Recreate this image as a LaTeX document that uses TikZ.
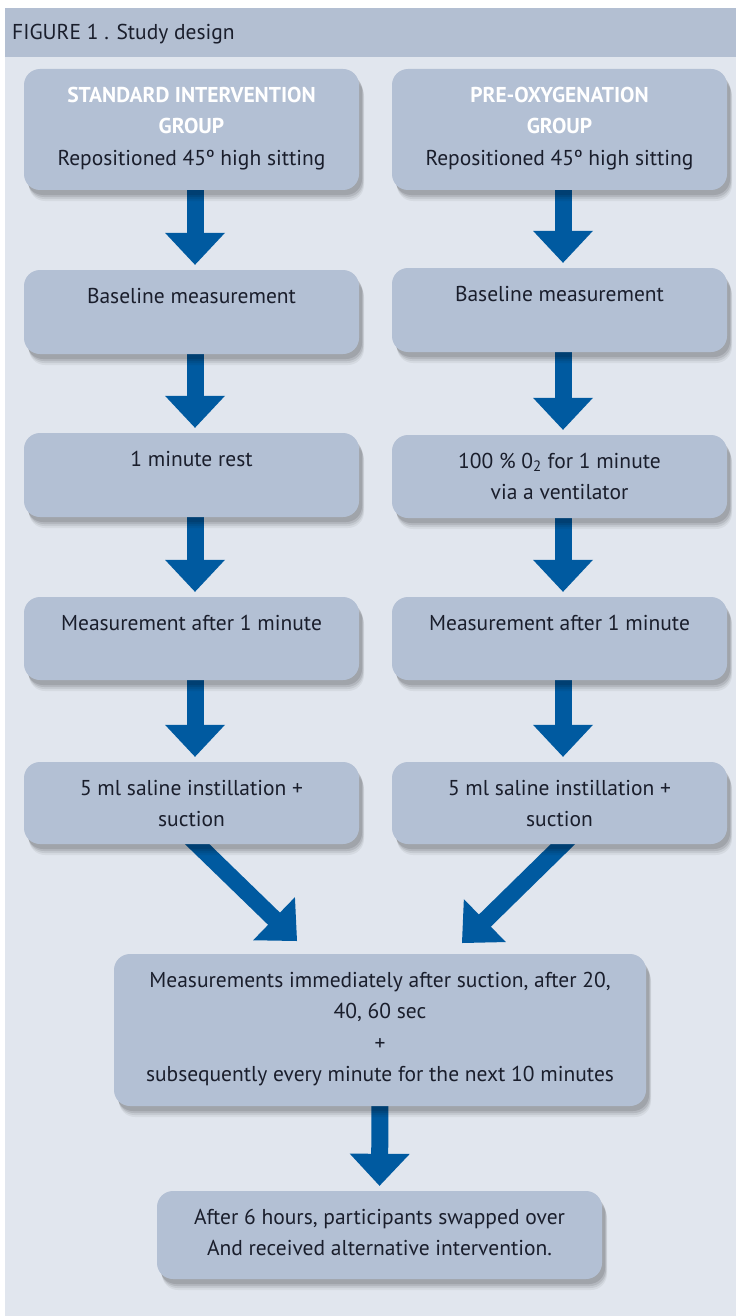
\documentclass[tikz,border=0pt]{standalone}
\usepackage{fontspec}
\setmainfont{PT Sans}
\usetikzlibrary{calc,shadows}
\definecolor{bgc}{HTML}{E1E6EE}
\definecolor{hdrc}{HTML}{B3BFD2}
\definecolor{boxc}{HTML}{B3C0D4}
\definecolor{arrowblue}{HTML}{005AA0}
\definecolor{txtc}{HTML}{1A1E2C}
\pgfdeclarelayer{back}
\pgfdeclarelayer{mid}
\pgfsetlayers{back,mid,main}
\newcommand\flowarrow[3][5pt]{%
  \coordinate (fa-t) at ($(#3)!#1!(#2)$);
  \coordinate (fa-b) at ($(fa-t)!32pt!(#2)$);
  \fill[arrowblue] ($(fa-b)!30pt!90:(fa-t)$) -- (fa-t) -- ($(fa-b)!30pt!-90:(fa-t)$) -- cycle;
  \draw[arrowblue, line width=17pt] (#2) -- ($(fa-b)!1pt!(fa-t)$);
}
\begin{document}
\begin{tikzpicture}[x=1pt,y=-1pt,
  flowbox/.style={draw=none, fill=boxc, rounded corners=16pt, inner sep=0pt,
    drop shadow={shadow xshift=5pt, shadow yshift=-11pt, opacity=0.05, fill=black},
    drop shadow={shadow xshift=4.5pt, shadow yshift=-9pt, opacity=0.07, fill=black},
    drop shadow={shadow xshift=4pt, shadow yshift=-7pt, opacity=0.09, fill=black},
    drop shadow={shadow xshift=3pt, shadow yshift=-5pt, opacity=0.10, fill=black}},
  boxtext/.style={anchor=north, align=center, text=txtc, inner sep=0pt,
    font=\fontsize{21.5}{31.5}\selectfont}]
\useasboundingbox (0,0) rectangle (736,1316);
\begin{pgfonlayer}{back}
  \fill[white] (0,0) rectangle (736,1316);
  \fill[bgc] (5,57) rectangle (736,1316);
  \fill[hdrc] (5,8) rectangle (736,57);
\end{pgfonlayer}
\node[anchor=base west, inner sep=0pt, text=txtc, font=\fontsize{21.5}{24}\selectfont] (title) at (12,40) {FIGURE 1 . Study design};

% boxes
\node[flowbox, minimum width=335pt, minimum height=121pt] (L1) at (191.5,129.5) {};
\node[flowbox, minimum width=335pt, minimum height=121pt] (R1) at (559.5,129.5) {};
\node[flowbox, minimum width=335pt, minimum height=84pt] (L2) at (191.5,312) {};
\node[flowbox, minimum width=335pt, minimum height=84pt] (R2) at (559.5,310) {};
\node[flowbox, minimum width=335pt, minimum height=84pt] (L3) at (191.5,475) {};
\node[flowbox, minimum width=335pt, minimum height=83pt] (R3) at (559.5,476.5) {};
\node[flowbox, minimum width=335pt, minimum height=83pt] (L4) at (191.5,638.5) {};
\node[flowbox, minimum width=335pt, minimum height=83pt] (R4) at (559.5,638.5) {};
\node[flowbox, minimum width=335pt, minimum height=82pt] (L5) at (191.5,803) {};
\node[flowbox, minimum width=335pt, minimum height=82pt] (R5) at (559.5,803) {};
\node[flowbox, minimum width=532pt, minimum height=152pt] (M) at (380,1030) {};
\node[flowbox, minimum width=445pt, minimum height=88pt] (F) at (379.5,1235) {};

% texts
\node[boxtext] (L1t) at ($(L1.north)+(0,11)$) {\strut\textcolor{white}{\bfseries STANDARD INTERVENTION}\\\textcolor{white}{\bfseries GROUP}\\Repositioned 45º high sitting};
\node[boxtext] (R1t) at ($(R1.north)+(0,11)$) {\strut\textcolor{white}{\bfseries PRE-OXYGENATION}\\\textcolor{white}{\bfseries GROUP}\\Repositioned 45º high sitting};
\node[boxtext] (L2t) at ($(L2.north)+(0,11)$) {\strut Baseline measurement};
\node[boxtext] (R2t) at ($(R2.north)+(0,11)$) {\strut Baseline measurement};
\node[boxtext] (L3t) at ($(L3.north)+(0,11)$) {\strut 1 minute rest};
\node[boxtext] (R3t) at ($(R3.north)+(0,11)$) {\strut 100 \% 0\textsubscript{2} for 1 minute\\via a ventilator};
\node[boxtext] (L4t) at ($(L4.north)+(0,11)$) {\strut Measurement after 1 minute};
\node[boxtext] (R4t) at ($(R4.north)+(0,11)$) {\strut Measurement after 1 minute};
\node[boxtext] (L5t) at ($(L5.north)+(0,11)$) {\strut 5 ml saline instillation +\\suction};
\node[boxtext] (R5t) at ($(R5.north)+(0,11)$) {\strut 5 ml saline instillation +\\suction};
\node[boxtext] (Mt) at ($(M.north)+(0,11)$) {\strut Measurements immediately after suction, after 20,\\40, 60 sec\\+\\subsequently every minute for the next 10 minutes};
\node[boxtext] (Ft) at ($(F.north)+(0,11)$) {\strut After 6 hours, participants swapped over\\And received alternative intervention.};

% connectors
\coordinate (dlS) at ($(L5.south)+(-2.5,-8)$);
\coordinate (dlT) at (297,941);
\coordinate (drS) at ($(R5.south)+(11.5,-8)$);
\coordinate (drT) at (462,943);
\begin{pgfonlayer}{mid}
  \foreach \a/\b in {L1/L2,L2/L3,L3/L4,L4/L5,R1/R2,R2/R3,R3/R4,R4/R5}{
    \coordinate (s) at ($(\a.south)+(3.5,-4)$);
    \coordinate (e) at ($(\b.north)+(3.5,0)$);
    \flowarrow{s}{e}
  }
  \flowarrow[0pt]{dlS}{dlT}
  \flowarrow[0pt]{drS}{drT}
  \coordinate (ms) at ($(M.south)+(0,-4)$);
  \flowarrow{ms}{F.north}
\end{pgfonlayer}
\end{tikzpicture}
\end{document}
